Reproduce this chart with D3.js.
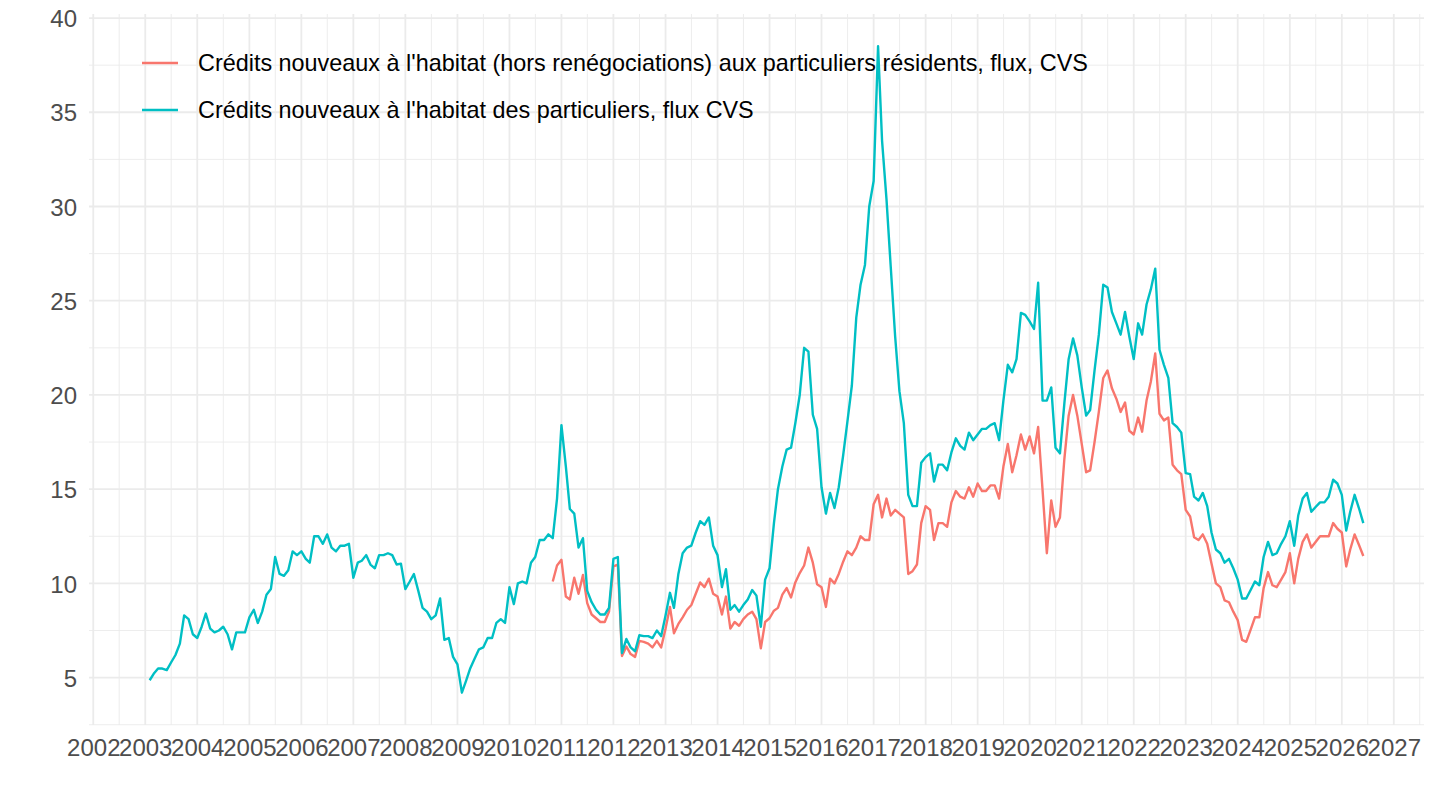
<!DOCTYPE html>
<html>
<head>
<meta charset="utf-8">
<script src="https://cdn.jsdelivr.net/npm/d3@7"></script>
<style>
  html, body { margin: 0; padding: 0; background: #ffffff; }
  svg { display: block; }
  text { font-family: "Liberation Sans", Arial, Helvetica, sans-serif; }
</style>
</head>
<body>
<svg id="chart" width="1440" height="810"></svg>
<script>
// ---- Data (monthly, starting February 2003) ----
const firstMonth = "2003-02";
const seriesNames = [
  "Crédits nouveaux à l'habitat (hors renégociations) aux particuliers résidents, flux, CVS",
  "Crédits nouveaux à l'habitat des particuliers, flux CVS"
];
const seriesColors = ["#F8766D", "#00BFC4"];

// Crédits nouveaux à l'habitat des particuliers, flux CVS (from Feb 2003)
const habitatTotal = [
  4.86, 5.2, 5.48, 5.48, 5.4, 5.8, 6.2, 6.8, 8.3, 8.1,
  7.3, 7.1, 7.7, 8.4, 7.6, 7.4, 7.5, 7.7, 7.3, 6.5,
  7.4, 7.4, 7.4, 8.2, 8.6, 7.9, 8.5, 9.4, 9.7, 11.4,
  10.5, 10.4, 10.7, 11.7, 11.5, 11.7, 11.3, 11.1, 12.5, 12.5,
  12.1, 12.6, 11.9, 11.7, 12.0, 12.0, 12.1, 10.3, 11.1, 11.2,
  11.5, 11.0, 10.8, 11.5, 11.5, 11.6, 11.5, 11.0, 11.05, 9.7,
  10.1, 10.5, 9.6, 8.7, 8.5, 8.1, 8.3, 9.2, 7.0, 7.1,
  6.1, 5.7, 4.2, 4.8, 5.5, 6.0, 6.5, 6.6, 7.1, 7.1,
  7.9, 8.1, 7.9, 9.8, 8.9, 10.0, 10.1, 10.0, 11.1, 11.4,
  12.3, 12.3, 12.6, 12.4, 14.5, 18.4, 16.2, 13.95, 13.7, 11.9,
  12.4, 9.6, 9.0, 8.6, 8.35, 8.35, 8.7, 11.3, 11.4, 6.3,
  7.05, 6.6, 6.4, 7.25, 7.2, 7.2, 7.1, 7.5, 7.2, 8.3,
  9.5, 8.7, 10.5, 11.6, 11.9, 12.0, 12.7, 13.3, 13.1, 13.5,
  12.0, 11.5, 9.8, 10.75, 8.6, 8.85, 8.5, 8.85, 9.15, 9.65,
  9.35, 7.7, 10.2, 10.8, 13.2, 15.0, 16.2, 17.1, 17.2, 18.5,
  20.0, 22.5, 22.3, 18.95, 18.2, 15.1, 13.7, 14.8, 14.0, 15.1,
  16.8, 18.6, 20.5, 24.1, 25.85, 26.9, 30.0, 31.35, 38.5, 33.5,
  30.4, 26.8, 23.1, 20.2, 18.5, 14.7, 14.1, 14.1, 16.4, 16.7,
  16.9, 15.4, 16.3, 16.3, 16.0, 16.95, 17.7, 17.3, 17.1, 18.0,
  17.6, 17.9, 18.2, 18.2, 18.4, 18.5, 17.6, 19.7, 21.6, 21.2,
  21.9, 24.35, 24.25, 23.9, 23.5, 25.95, 19.7, 19.7, 20.4, 17.2,
  16.9, 19.55, 21.9, 23.0, 22.1, 20.4, 18.9, 19.2, 21.3, 23.2,
  25.85, 25.7, 24.4, 23.8, 23.2, 24.4, 23.1, 21.9, 23.8, 23.2,
  24.8, 25.6, 26.7, 22.4, 21.6, 20.9, 18.5, 18.3, 18.0, 15.85,
  15.8, 14.6, 14.4, 14.8, 14.1, 12.7, 11.8, 11.6, 11.1, 11.3,
  10.8, 10.2, 9.2, 9.2, 9.65, 10.1, 9.9, 11.4, 12.2, 11.5,
  11.6, 12.1, 12.5, 13.3, 12.0, 13.6, 14.5, 14.8, 13.8, 14.05,
  14.3, 14.3, 14.6, 15.5, 15.3, 14.7, 12.8, 13.8, 14.7, 14.0, 13.2
];

// Hors renégociations series starts November 2010
const horsRenegoFirstMonth = "2010-11";
const habitatHorsReneg = [
  10.1, 10.95, 11.25, 9.3, 9.15, 10.3, 9.45,
  10.45, 8.95, 8.35, 8.15, 7.95, 7.95, 8.5, 10.9, 11.0, 6.15,
  6.65, 6.25, 6.1, 6.95, 6.9, 6.8, 6.6, 6.95, 6.6, 7.6,
  8.75, 7.35, 7.85, 8.2, 8.6, 8.85, 9.45, 10.05, 9.8, 10.25,
  9.45, 9.3, 8.35, 9.3, 7.6, 7.95, 7.75, 8.1, 8.35, 8.5,
  8.1, 6.55, 7.95, 8.15, 8.55, 8.7, 9.4, 9.75, 9.25, 10.05,
  10.55, 10.95, 11.9, 11.1, 9.95, 9.8, 8.75, 10.25, 10.0, 10.5,
  11.15, 11.7, 11.5, 11.9, 12.5, 12.3, 12.3, 14.2, 14.7, 13.5,
  14.5, 13.6, 13.9, 13.7, 13.5, 10.5, 10.65, 11.0, 13.2, 14.1,
  13.9, 12.3, 13.2, 13.2, 13.0, 14.3, 14.9, 14.6, 14.5, 15.1,
  14.6, 15.3, 14.9, 14.9, 15.2, 15.2, 14.5, 16.2, 17.4, 15.9,
  16.8, 17.9, 17.1, 17.8, 16.9, 18.3, 14.95, 11.6, 14.4, 13.0,
  13.5, 16.6, 18.9, 20.0, 18.9, 17.4, 15.9, 16.0, 17.5, 19.1,
  20.9, 21.3, 20.35, 19.8, 19.1, 19.6, 18.1, 17.9, 18.8, 18.05,
  19.7, 20.7, 22.2, 19.0, 18.65, 18.8, 16.3, 16.0, 15.8, 13.9,
  13.55, 12.45, 12.3, 12.6, 12.1, 11.05, 10.0, 9.8, 9.1, 9.0,
  8.5, 8.05, 7.0, 6.9, 7.55, 8.2, 8.2, 9.75, 10.6, 9.9,
  9.8, 10.2, 10.6, 11.6, 10.0, 11.3, 12.2, 12.6, 11.9, 12.2,
  12.5, 12.5, 12.5, 13.2, 12.9, 12.7, 10.9, 11.8, 12.6, 12.05, 11.45
];

const xTickYears = d3.range(2002, 2028);
const yTickValues = [5, 10, 15, 20, 25, 30, 35, 40];

// ---- Build series ----
const parseMonth = d3.timeParse("%Y-%m");
function toSeries(start, values) {
  const s = parseMonth(start);
  return values.map((v, i) => ({ date: d3.timeMonth.offset(s, i), value: v }));
}
const series = [
  { name: seriesNames[0], color: seriesColors[0], values: toSeries(horsRenegoFirstMonth, habitatHorsReneg) },
  { name: seriesNames[1], color: seriesColors[1], values: toSeries(firstMonth, habitatTotal) }
];

// ---- Layout ----
const svg = d3.select("#chart");
const panel = { left: 89, right: 1424, top: 14, bottom: 725 };

const allPts = series.flatMap(s => s.values);
const [dMin, dMax] = d3.extent(allPts, d => +d.date);
const dPad = (dMax - dMin) * 0.05;
const [vMin, vMax] = d3.extent(allPts, d => d.value);
const vPad = (vMax - vMin) * 0.05;

const x = d3.scaleTime()
  .domain([new Date(dMin - dPad), new Date(dMax + dPad)])
  .range([panel.left, panel.right]);
const y = d3.scaleLinear()
  .domain([vMin - vPad, vMax + vPad])
  .range([panel.bottom, panel.top]);

const gridColor = "#EBEBEB";
const grid = svg.append("g");

// minor grid
const yMinor = d3.range(2.5, 40, 5).filter(v => v >= y.domain()[0] && v <= y.domain()[1]);
grid.selectAll(".ymin").data(yMinor).join("line")
  .attr("x1", panel.left).attr("x2", panel.right)
  .attr("y1", d => y(d)).attr("y2", d => y(d))
  .attr("stroke", gridColor).attr("stroke-width", 0.9);
const xMinor = d3.range(2001, 2028).map(yr => new Date(yr, 6, 2))
  .filter(d => d >= x.domain()[0] && d <= x.domain()[1]);
grid.selectAll(".xmin").data(xMinor).join("line")
  .attr("x1", d => x(d)).attr("x2", d => x(d))
  .attr("y1", panel.top).attr("y2", panel.bottom)
  .attr("stroke", gridColor).attr("stroke-width", 0.9);

// major grid
grid.selectAll(".ymaj").data(yTickValues).join("line")
  .attr("x1", panel.left).attr("x2", panel.right)
  .attr("y1", d => y(d)).attr("y2", d => y(d))
  .attr("stroke", gridColor).attr("stroke-width", 1.8);
const xTicks = xTickYears.map(yr => new Date(yr, 0, 1));
grid.selectAll(".xmaj").data(xTicks).join("line")
  .attr("x1", d => x(d)).attr("x2", d => x(d))
  .attr("y1", panel.top).attr("y2", panel.bottom)
  .attr("stroke", gridColor).attr("stroke-width", 1.8);

// axes (labels only)
const xAxis = d3.axisBottom(x).tickValues(xTicks).tickFormat(d3.timeFormat("%Y")).tickSize(0).tickPadding(0);
const gx = svg.append("g").attr("transform", `translate(0,${panel.bottom})`).call(xAxis);
gx.select(".domain").remove();
gx.selectAll("text").attr("fill", "#4D4D4D").attr("font-size", 24).attr("dy", null)
  .attr("y", 31).attr("font-family", '"Liberation Sans", Arial, sans-serif');

const yAxis = d3.axisLeft(y).tickValues(yTickValues).tickSize(0).tickPadding(0);
const gy = svg.append("g").attr("transform", `translate(${panel.left},0)`).call(yAxis);
gy.select(".domain").remove();
gy.selectAll("text").attr("fill", "#4D4D4D").attr("font-size", 24).attr("x", -12)
  .attr("dy", "0.36em").attr("font-family", '"Liberation Sans", Arial, sans-serif');

// lines
const line = d3.line().x(d => x(d.date)).y(d => y(d.value));
svg.append("g").selectAll("path").data(series).join("path")
  .attr("d", d => line(d.values))
  .attr("fill", "none")
  .attr("stroke", d => d.color)
  .attr("stroke-width", 2.4)
  .attr("stroke-linejoin", "round");

// legend
const legend = svg.append("g");
const lg = legend.selectAll("g").data(series).join("g")
  .attr("transform", (d, i) => `translate(142,${63 + i * 47})`);
lg.append("line").attr("x1", 0).attr("x2", 36).attr("y1", 0).attr("y2", 0)
  .attr("stroke", d => d.color).attr("stroke-width", 2.4);
lg.append("text").attr("x", 56).attr("y", 0).attr("dy", "0.35em")
  .attr("font-size", 23.4).attr("fill", "#000000")
  .text(d => d.name);
</script>
</body>
</html>
